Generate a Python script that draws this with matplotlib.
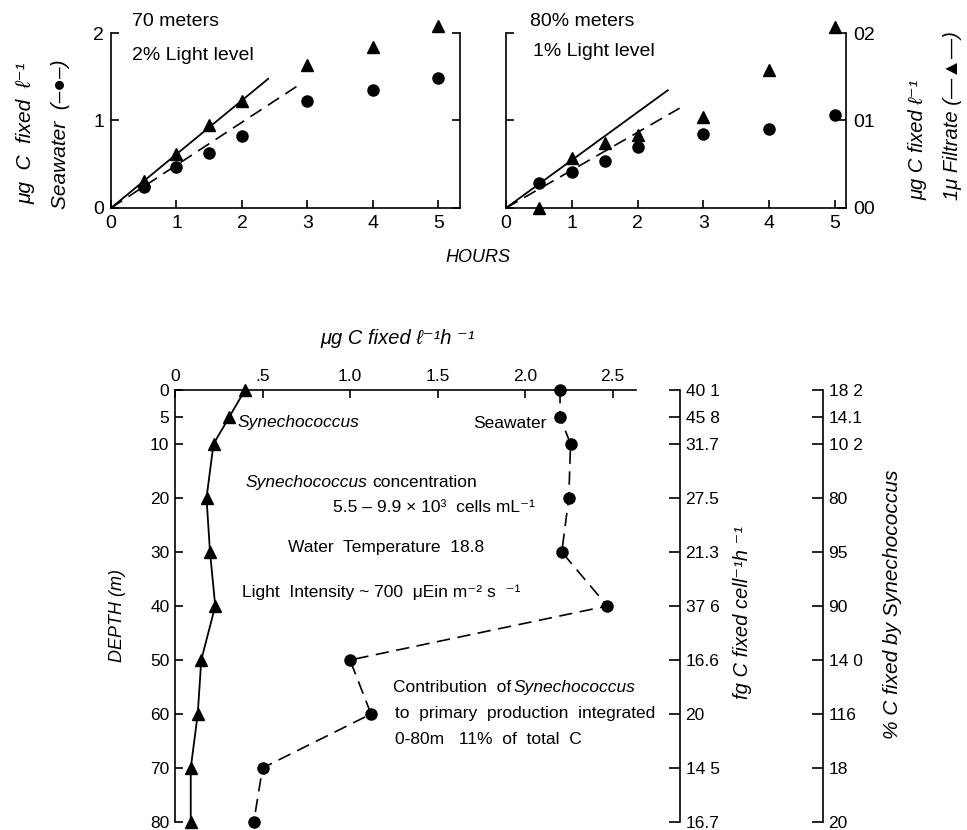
import matplotlib
matplotlib.use("Agg")
import matplotlib.pyplot as plt

plt.rcParams['font.family'] = ['Liberation Sans', 'DejaVu Sans']
plt.rcParams['axes.linewidth'] = 1.2

W, H = 967, 830

# --- Time courses of carbon fixation (top panels) ---
hours = [0.5, 1, 1.5, 2, 3, 4, 5]
filtrate_70m = [0.31, 0.62, 0.95, 1.22, 1.63, 1.84, 2.08]
seawater_70m = [0.245, 0.47, 0.63, 0.82, 1.22, 1.35, 1.49]
filtrate_80m = [0.0, 0.057, 0.074, 0.083, 0.104, 0.158, 0.207]
seawater_80m = [0.029, 0.041, 0.054, 0.070, 0.084, 0.090, 0.106]

# initial linear rates (slope, last hour of fit)
fit_filtrate_70m = (0.615, 2.40)
fit_seawater_70m = (0.49, 2.84)
fit_filtrate_80m = (0.0547, 2.46)
fit_seawater_80m = (0.0432, 2.64)

hour_ticks = [0, 1, 2, 3, 4, 5]

# --- Depth profile (bottom panel) ---
depth = [0, 5, 10, 20, 30, 40, 50, 60, 70, 80]
syn_rate = [0.40, 0.31, 0.22, 0.18, 0.20, 0.23, 0.15, 0.13, 0.09, 0.09]
seawater_rate = [2.20, 2.20, 2.26, 2.25, 2.21, 2.47, 1.00, 1.12, 0.50, 0.45]
rate_ticks = [0, 0.5, 1.0, 1.5, 2.0, 2.5]
rate_ticklabels = ['0', '.5', '1.0', '1.5', '2.0', '2.5']
fg_per_cell = ['40 1', '45 8', '31.7', '27.5', '21.3', '37 6', '16.6', '20', '14 5', '16.7']
pct_syn = ['18 2', '14.1', '10 2', '80', '95', '90', '14 0', '116', '18', '20']

DASH = (0, (8, 4.5))


def box(x0, y0, x1, y1):
    """Axes rectangle from pixel corners (top-left origin)."""
    return [x0 / W, 1 - y1 / H, (x1 - x0) / W, (y1 - y0) / H]


def ftext(x, y, s, **kw):
    kw.setdefault('fontsize', 12.5)
    kw.setdefault('va', 'center')
    return fig.text(x / W, 1 - y / H, s, **kw)


fig = plt.figure(figsize=(W / 100, H / 100), dpi=100)

tick_kw = dict(direction='in', length=6, width=1.2, labelsize=14, pad=5)


def time_panel(ax, xmax, filt, sw, fit_f, fit_s, ymax, yticks):
    ax.set_xlim(0, xmax)
    ax.set_ylim(0, ymax)
    ax.spines['top'].set_visible(False)
    ax.set_xticks(hour_ticks)
    ax.set_yticks(yticks)
    ax.tick_params(axis='both', **tick_kw)
    ax.tick_params(axis='y', left=True, right=True)
    ax.plot(hours, filt, ls='none', marker='^', ms=8, color='black', clip_on=False, zorder=5)
    ax.plot(hours, sw, ls='none', marker='o', ms=8, color='black', clip_on=False, zorder=5)
    s, t = fit_f
    ax.plot([0, t], [0, s * t], color='black', lw=1.3, clip_on=False)
    s, t = fit_s
    ax.plot([0, t], [0, s * t], color='black', lw=1.2, ls=DASH, clip_on=False)


ax1 = fig.add_axes(box(111, 33, 460, 208))
ax2 = fig.add_axes(box(506, 33, 846, 208))

time_panel(ax1, 5.33, filtrate_70m, seawater_70m, fit_filtrate_70m, fit_seawater_70m, 2.0, [0, 1, 2])
ax1.set_yticklabels(['0', '1', '2'])
ax1.tick_params(axis='y', labelleft=True, labelright=False)

time_panel(ax2, 5.17, filtrate_80m, seawater_80m, fit_filtrate_80m, fit_seawater_80m, 0.2, [0, 0.1, 0.2])
ax2.set_yticklabels(['00', '01', '02'])
ax2.tick_params(axis='y', labelleft=False, labelright=True)

ftext(132, 22, '70 meters', fontsize=14)
ftext(132, 55, '2% Light level', fontsize=14)
ftext(530, 21, '80% meters', fontsize=14)
ftext(533, 52, '1% Light level', fontsize=14)
ftext(478, 257, 'HOURS', fontsize=13, style='italic', ha='center')

ftext(26, 133, 'μg  C  fixed  ℓ⁻¹', fontsize=15, style='italic', rotation=90, ha='center')
ftext(60, 134, 'Seawater  (–●–)', fontsize=15, style='italic', rotation=90, ha='center')
ftext(918, 140, 'μg C fixed ℓ⁻¹', fontsize=14.5, style='italic', rotation=90, ha='center')
ftext(952, 116, '1μ Filtrate (—▲—)', fontsize=14.5, style='italic', rotation=90, ha='center')

# --- depth profile ---
ax3 = fig.add_axes(box(175, 390, 636, 822))
ax3.set_xlim(0, 2.634)
ax3.set_ylim(80, 0)
ax3.spines['bottom'].set_visible(False)
ax3.spines['right'].set_visible(False)
ax3.xaxis.tick_top()
ax3.set_xticks(rate_ticks)
ax3.set_xticklabels(rate_ticklabels)
ax3.set_yticks(depth)
ax3.tick_params(axis='both', direction='in', length=6, width=1.2, labelsize=12.5, pad=4)
ax3.plot(syn_rate, depth, color='black', lw=1.3, marker='^', ms=8, clip_on=False, zorder=5)
ax3.plot(seawater_rate, depth, color='black', lw=1.2, ls=DASH, marker='o', ms=8,
         clip_on=False, zorder=5)

ftext(398, 338, 'μg C fixed ℓ⁻¹h ⁻¹', fontsize=14.5, style='italic', ha='center')
ftext(117, 615, 'DEPTH (m)', fontsize=13, style='italic', rotation=90, ha='center')

ftext(238, 423, 'Synechococcus', style='italic')
ftext(547, 423, 'Seawater', ha='right')
ftext(245, 482, 'Synechococcus', style='italic')
ftext(372, 482, 'concentration')
ftext(333, 507, '5.5 – 9.9 × 10³  cells mL⁻¹')
ftext(288, 547, 'Water  Temperature  18.8')
ftext(242, 592, 'Light  Intensity ~ 700  μEin m⁻² s  ⁻¹')
ftext(393, 687, 'Contribution  of')
ftext(513, 687, 'Synechococcus', style='italic')
ftext(395, 713, 'to  primary  production  integrated')
ftext(395, 739, '0-80m   11%  of  total  C')


def side_scale(x_spine, labels):
    ax = fig.add_axes(box(x_spine - 40, 390, x_spine, 822))
    ax.set_ylim(80, 0)
    for side in ('top', 'bottom', 'left'):
        ax.spines[side].set_visible(False)
    ax.patch.set_visible(False)
    ax.set_xticks([])
    ax.yaxis.tick_right()
    ax.set_yticks(depth)
    ax.set_yticklabels(labels)
    ax.tick_params(axis='y', direction='in', length=8, width=1.2, labelsize=12.5, pad=4)
    return ax


side_scale(680, fg_per_cell)
side_scale(823, pct_syn)

ftext(743, 612, 'fg C fixed cell⁻¹h ⁻¹', fontsize=14.5, style='italic', rotation=90, ha='center')
ftext(893, 604, '% C fixed by Synechococcus', fontsize=15, style='italic', rotation=90, ha='center')

fig.savefig('out.png', dpi=100, facecolor='white')
